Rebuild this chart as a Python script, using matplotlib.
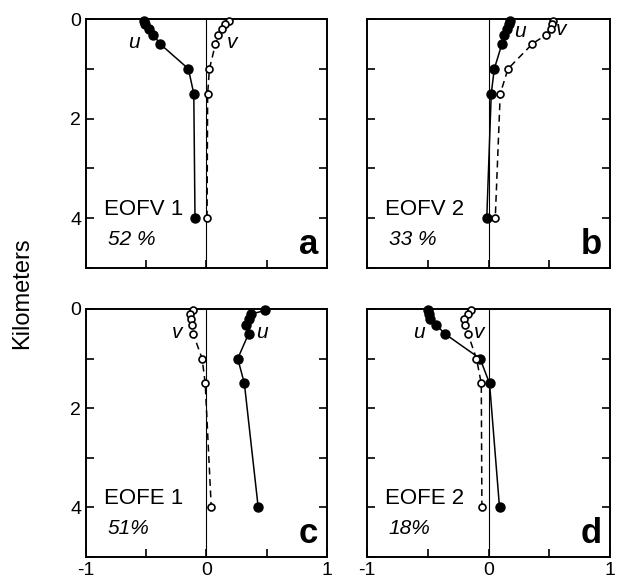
import matplotlib.pyplot as plt
import numpy as np

plt.rcParams['font.family'] = ['Liberation Sans', 'DejaVu Sans']

# depth of each level (km)
depth = [0.03, 0.1, 0.2, 0.32, 0.5, 1.0, 1.5, 4.0]

# panel a - EOFV 1
u_a = [-0.52, -0.51, -0.48, -0.44, -0.385, -0.15, -0.105, -0.095]
v_a = [0.185, 0.155, 0.13, 0.10, 0.075, 0.025, 0.01, 0.005]
# panel b - EOFV 2
u_b = [0.18, 0.17, 0.15, 0.13, 0.11, 0.047, 0.022, -0.015]
v_b = [0.53, 0.52, 0.51, 0.47, 0.36, 0.16, 0.096, 0.055]
# panel c - EOFE 1
u_c = [0.49, 0.37, 0.35, 0.33, 0.35, 0.26, 0.315, 0.43]
v_c = [-0.115, -0.14, -0.13, -0.12, -0.11, -0.036, -0.01, 0.04]
# panel d - EOFE 2
u_d = [-0.50, -0.49, -0.48, -0.43, -0.36, -0.07, 0.008, 0.09]
v_d = [-0.145, -0.17, -0.20, -0.19, -0.17, -0.10, -0.06, -0.055]

names = ['EOFV 1', 'EOFV 2', 'EOFE 1', 'EOFE 2']
percents = ['52 %', '33 %', '51%', '18%']
letters = ['a', 'b', 'c', 'd']
us = [u_a, u_b, u_c, u_d]
vs = [v_a, v_b, v_c, v_d]
# where the little u / v labels sit (data coords)
u_lab = [(-0.6, 0.48), (0.26, 0.26), (0.46, 0.48), (-0.57, 0.48)]
v_lab = [(0.215, 0.48), (0.60, 0.22), (-0.24, 0.48), (-0.08, 0.48)]

fig = plt.figure(figsize=(6.19, 5.87), dpi=100)

boxes = [[0.139, 0.5434, 0.389, 0.4242],
         [0.593, 0.5434, 0.3926, 0.4242],
         [0.139, 0.0511, 0.389, 0.4225],
         [0.593, 0.0511, 0.3926, 0.4225]]

for i in range(4):
    ax = fig.add_axes(boxes[i])
    ax.axvline(0, color='black', lw=0.8, zorder=1)
    ax.plot(us[i], depth, '-', color='black', lw=1.1, marker='o', ms=6.5,
            mfc='black', mec='black', clip_on=False, zorder=3)
    ax.plot(vs[i], depth, '--', color='black', lw=1.1, marker='o', ms=5,
            mfc='white', mec='black', mew=1.2, dashes=(4.5, 3), clip_on=False, zorder=3)
    ax.text(u_lab[i][0], u_lab[i][1], 'u', fontsize=15, style='italic', ha='center', va='center')
    ax.text(v_lab[i][0], v_lab[i][1], 'v', fontsize=15, style='italic', ha='center', va='center')

    ax.text(-0.85, 3.83, names[i], fontsize=16, ha='left', va='center')
    ax.text(-0.82, 4.43, percents[i], fontsize=15, style='italic', ha='left', va='center')
    ax.text(0.965, 0.03, letters[i], transform=ax.transAxes, fontsize=25,
            fontweight='bold', ha='right', va='bottom')

    ax.set_xlim(-1, 1)
    ax.set_ylim(5, 0)
    ax.set_xticks([-1, -0.5, 0, 0.5, 1])
    ax.set_yticks([0, 1, 2, 3, 4, 5])
    ax.tick_params(direction='in', length=6, width=1.2, left=True, right=True,
                   bottom=True, top=False, labelsize=14)
    if i < 2:
        ax.set_xticklabels([])
    else:
        ax.set_xticklabels(['-1', '', '0', '', '1'])
    if i % 2 == 1:
        ax.set_yticklabels([])
    else:
        ax.set_yticklabels(['0', '', '2', '', '4', ''])
    for s in ax.spines.values():
        s.set_linewidth(1.4)

fig.text(0.035, 0.5, 'Kilometers', rotation=90, fontsize=17, ha='center', va='center')

fig.savefig('out.png', dpi=100)
